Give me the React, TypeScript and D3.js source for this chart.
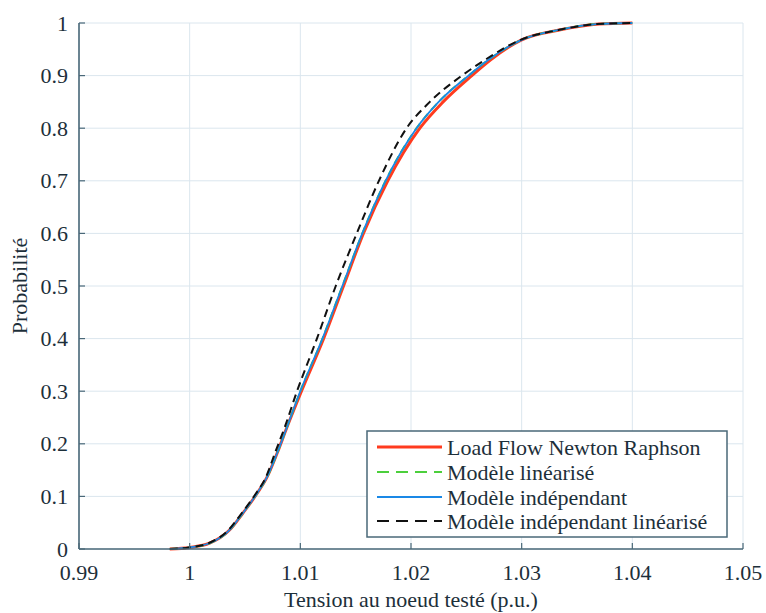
import React from "react";
import * as d3 from "d3";

const probLevels = [0, 0.003, 0.011, 0.036, 0.068, 0.106, 0.137, 0.182, 0.232, 0.3, 0.4, 0.5, 0.6, 0.7, 0.8, 0.85, 0.9, 0.93, 0.968, 0.987, 0.998, 1];

const newtonRaphson = [0.9982, 1.0, 1.0018, 1.0036, 1.0048, 1.0061, 1.007, 1.0079, 1.0088, 1.0101, 1.0121, 1.0139, 1.0157, 1.0179, 1.0208, 1.0229, 1.0255, 1.0272, 1.03, 1.0335, 1.037, 1.04];
const modeleLinearise = [0.9982, 1.0, 1.0018, 1.0036, 1.0048, 1.0061, 1.007, 1.0079, 1.0088, 1.01, 1.012, 1.0138, 1.0156, 1.0177, 1.0205, 1.0225, 1.0252, 1.027, 1.03, 1.0334, 1.0368, 1.04];
const modeleIndependant = [0.9982, 1.0, 1.0018, 1.0036, 1.0048, 1.0061, 1.007, 1.0079, 1.0088, 1.01, 1.012, 1.0138, 1.0156, 1.0177, 1.0205, 1.0225, 1.0252, 1.027, 1.03, 1.0334, 1.0368, 1.04];
const modeleIndependantLinearise = [0.9982, 1.0, 1.0017, 1.0035, 1.0047, 1.006, 1.0069, 1.0077, 1.0086, 1.0097, 1.0115, 1.0132, 1.0151, 1.0171, 1.0196, 1.0217, 1.0246, 1.0267, 1.0299, 1.0334, 1.0368, 1.04];

const xTicks = [0.99, 1, 1.01, 1.02, 1.03, 1.04, 1.05];
const xTickLabels = ["0.99", "1", "1.01", "1.02", "1.03", "1.04", "1.05"];
const yTicks = [0, 0.1, 0.2, 0.3, 0.4, 0.5, 0.6, 0.7, 0.8, 0.9, 1];
const yTickLabels = ["0", "0.1", "0.2", "0.3", "0.4", "0.5", "0.6", "0.7", "0.8", "0.9", "1"];

const seriesNames = ["Load Flow Newton Raphson", "Modèle linéarisé", "Modèle indépendant", "Modèle indépendant linéarisé"];
const seriesValues = [newtonRaphson, modeleLinearise, modeleIndependant, modeleIndependantLinearise];
const seriesColors = ["#ff3b1f", "#4ccf3c", "#1a88e6", "#111111"];
const seriesWidths = [3, 2, 1.8, 2];
const seriesDash = [null, "8,5", null, "8,5"];
const legendDash = [null, "12,7", null, "12,7"];

const W = 766, H = 613;
const M = { left: 79, right: 23, top: 23, bottom: 64 };
const FONT = "Liberation Serif, DejaVu Serif, serif";
const AXIS = "#4a6878";
const TEXT = "#1d2f3a";
const GRID = "#dbe6ee";
const FS = 22;

const txt = { fontFamily: FONT };

export default function App() {
  const x = d3.scaleLinear().domain([0.99, 1.05]).range([M.left, W - M.right]);
  const y = d3.scaleLinear().domain([0, 1]).range([H - M.bottom, M.top]);
  const line = d3.line<[number, number]>().x(d => x(d[0])).y(d => y(d[1])).curve(d3.curveMonotoneX);

  const x0 = x(0.99), x1 = x(1.05), y0 = y(0), y1 = y(1);
  const lg = { x: 367, y: 431, w: 360, h: 106 };
  const rowY = [447, 472, 497, 521];

  return (
    <svg width={W} height={H} style={{ position: "absolute", left: 0, top: 0, background: "#fff" }}>
      {/* grid */}
      {xTicks.map((t, i) => (
        <line key={"gx" + i} x1={x(t)} x2={x(t)} y1={y0} y2={y1} stroke={GRID} strokeWidth={1} />
      ))}
      {yTicks.map((t, i) => (
        <line key={"gy" + i} x1={x0} x2={x1} y1={y(t)} y2={y(t)} stroke={GRID} strokeWidth={1} />
      ))}
      {/* curves */}
      {seriesValues.map((vals, i) => (
        <path
          key={"s" + i}
          d={line(vals.map((v, j) => [v, probLevels[j]] as [number, number])) || ""}
          fill="none"
          stroke={seriesColors[i]}
          strokeWidth={seriesWidths[i]}
          strokeDasharray={seriesDash[i] || undefined}
        />
      ))}
      {/* axes */}
      <line x1={x0} x2={x1} y1={y0} y2={y0} stroke={AXIS} strokeWidth={1.6} />
      <line x1={x0} x2={x0} y1={y0} y2={y1} stroke={AXIS} strokeWidth={1.6} />
      {xTicks.map((t, i) => (
        <g key={"xt" + i}>
          <line x1={x(t)} x2={x(t)} y1={y0} y2={y0 - 6} stroke={AXIS} strokeWidth={1.2} />
          <text x={x(t)} y={580} textAnchor="middle" fontSize={FS} fill={TEXT} style={txt}>{xTickLabels[i]}</text>
        </g>
      ))}
      {yTicks.map((t, i) => (
        <g key={"yt" + i}>
          <line x1={x0} x2={x0 + 6} y1={y(t)} y2={y(t)} stroke={AXIS} strokeWidth={1.2} />
          <text x={68} y={y(t) + 7.5} textAnchor="end" fontSize={FS} fill={TEXT} style={txt}>{yTickLabels[i]}</text>
        </g>
      ))}
      {/* axis titles */}
      <text x={(x0 + x1) / 2} y={607} textAnchor="middle" fontSize={FS} fill={TEXT} style={txt}>Tension au noeud testé (p.u.)</text>
      <text transform={`translate(27,${(y0 + y1) / 2}) rotate(-90)`} textAnchor="middle" fontSize={FS} fill={TEXT} style={txt}>Probabilité</text>
      {/* legend */}
      <rect x={lg.x} y={lg.y} width={lg.w} height={lg.h} fill="#fff" stroke={AXIS} strokeWidth={1.5} />
      {seriesNames.map((n, i) => (
        <g key={"lg" + i}>
          <line x1={377} x2={442} y1={rowY[i]} y2={rowY[i]} stroke={seriesColors[i]} strokeWidth={seriesWidths[i]} strokeDasharray={legendDash[i] || undefined} />
          <text x={447} y={rowY[i] + 7.5} fontSize={FS} fill={TEXT} style={txt}>{n}</text>
        </g>
      ))}
    </svg>
  );
}
